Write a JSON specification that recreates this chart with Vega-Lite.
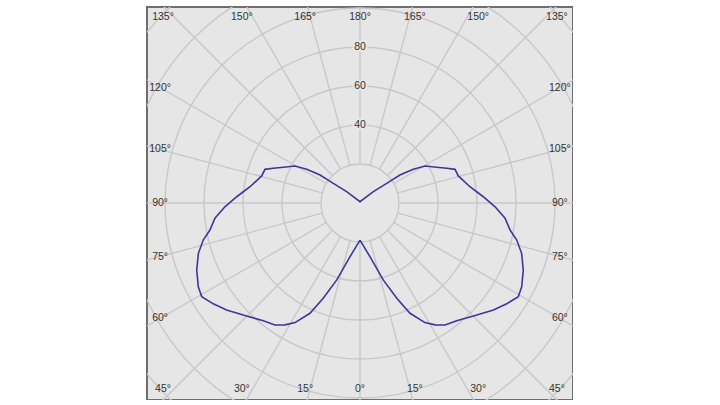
{
  "$schema": "https://vega.github.io/schema/vega-lite/v6.json",
  "width": 426,
  "height": 393,
  "autosize": {"type": "none"},
  "padding": {"left": 147, "top": 7, "right": 0, "bottom": 0},
  "background": "#ffffff",
  "config": {
    "view": {"fill": "#e6e6e6", "stroke": "#6e6e6e", "strokeWidth": 2}
  },
  "datasets": {
    "circles": [
      {"r": 20}, {"r": 40}, {"r": 60}, {"r": 80}, {"r": 100}, {"r": 120}, {"r": 140}
    ],
    "spokes": [
      {"a": 0}, {"a": 15}, {"a": 30}, {"a": 45}, {"a": 60}, {"a": 75},
      {"a": 90}, {"a": 105}, {"a": 120}, {"a": 135}, {"a": 150}, {"a": 165},
      {"a": 180}, {"a": 195}, {"a": 210}, {"a": 225}, {"a": 240}, {"a": 255},
      {"a": 270}, {"a": 285}, {"a": 300}, {"a": 315}, {"a": 330}, {"a": 345}
    ],
    "curve": [
      {"a": 0, "cd": 19.0},
      {"a": 10.5, "cd": 28.0},
      {"a": 16.8, "cd": 41.2},
      {"a": 21.1, "cd": 52.4},
      {"a": 24.4, "cd": 62.1},
      {"a": 28.5, "cd": 69.8},
      {"a": 31.6, "cd": 73.4},
      {"a": 34.9, "cd": 76.3},
      {"a": 39.4, "cd": 78.1},
      {"a": 45.1, "cd": 82.1},
      {"a": 51.3, "cd": 87.7},
      {"a": 55.5, "cd": 91.3},
      {"a": 59.4, "cd": 94.3},
      {"a": 62.6, "cd": 93.4},
      {"a": 67.7, "cd": 90.5},
      {"a": 72.7, "cd": 86.8},
      {"a": 76.7, "cd": 82.6},
      {"a": 79.8, "cd": 78.2},
      {"a": 84.0, "cd": 74.8},
      {"a": 88.4, "cd": 69.3},
      {"a": 92.9, "cd": 63.3},
      {"a": 98.4, "cd": 57.0},
      {"a": 105.4, "cd": 52.3},
      {"a": 109.5, "cd": 51.7},
      {"a": 111.8, "cd": 47.9},
      {"a": 115.0, "cd": 43.4},
      {"a": 119.6, "cd": 38.4},
      {"a": 122.3, "cd": 32.3},
      {"a": 125.0, "cd": 25.0},
      {"a": 126.4, "cd": 17.0},
      {"a": 130.4, "cd": 9.0},
      {"a": 180, "cd": 0.7},
      {"a": 229.6, "cd": 9.0},
      {"a": 233.6, "cd": 17.0},
      {"a": 235.0, "cd": 25.0},
      {"a": 237.7, "cd": 32.3},
      {"a": 240.4, "cd": 38.4},
      {"a": 245.0, "cd": 43.4},
      {"a": 248.2, "cd": 47.9},
      {"a": 250.5, "cd": 51.7},
      {"a": 254.6, "cd": 52.3},
      {"a": 261.6, "cd": 57.0},
      {"a": 267.1, "cd": 63.3},
      {"a": 271.6, "cd": 69.3},
      {"a": 276.0, "cd": 74.8},
      {"a": 280.2, "cd": 78.2},
      {"a": 283.3, "cd": 82.6},
      {"a": 287.3, "cd": 86.8},
      {"a": 292.3, "cd": 90.5},
      {"a": 297.4, "cd": 93.4},
      {"a": 300.6, "cd": 94.3},
      {"a": 304.5, "cd": 91.3},
      {"a": 308.7, "cd": 87.7},
      {"a": 314.9, "cd": 82.1},
      {"a": 320.6, "cd": 78.1},
      {"a": 325.1, "cd": 76.3},
      {"a": 328.4, "cd": 73.4},
      {"a": 331.5, "cd": 69.8},
      {"a": 335.6, "cd": 62.1},
      {"a": 338.9, "cd": 52.4},
      {"a": 343.2, "cd": 41.2},
      {"a": 349.5, "cd": 28.0},
      {"a": 360, "cd": 19.0}
    ],
    "angleLabels": [
      {"a": 0, "label": "0°"}, {"a": 15, "label": "15°"}, {"a": 30, "label": "30°"},
      {"a": 45, "label": "45°"}, {"a": 60, "label": "60°"}, {"a": 75, "label": "75°"},
      {"a": 90, "label": "90°"}, {"a": 105, "label": "105°"}, {"a": 120, "label": "120°"},
      {"a": 135, "label": "135°"}, {"a": 150, "label": "150°"}, {"a": 165, "label": "165°"},
      {"a": 180, "label": "180°"}, {"a": 195, "label": "165°"}, {"a": 210, "label": "150°"},
      {"a": 225, "label": "135°"}, {"a": 240, "label": "120°"}, {"a": 255, "label": "105°"},
      {"a": 270, "label": "90°"}, {"a": 285, "label": "75°"}, {"a": 300, "label": "60°"},
      {"a": 315, "label": "45°"}, {"a": 330, "label": "30°"}, {"a": 345, "label": "15°"}
    ],
    "valueLabels": [
      {"v": 40, "label": "40"}, {"v": 60, "label": "60"}, {"v": 80, "label": "80"}
    ]
  },
  "layer": [
    {
      "data": {"name": "circles"},
      "mark": {"type": "arc", "theta": 0, "theta2": 6.2832, "fill": "transparent", "stroke": "#c8c8c8", "strokeWidth": 1.4, "clip": true},
      "encoding": {
        "x": {"datum": 0, "type": "quantitative", "scale": {"domain": [-109.23, 109.23], "nice": false, "zero": false}, "axis": null},
        "y": {"datum": 0, "type": "quantitative", "scale": {"domain": [-101.03, 100.51], "nice": false, "zero": false}, "axis": null},
        "radius": {"field": "r", "type": "quantitative", "stack": null, "scale": {"type": "linear", "domain": [0, 140], "range": [0, 273], "nice": false}, "legend": null}
      }
    },
    {
      "data": {"name": "spokes"},
      "transform": [
        {"calculate": "sin(datum.a * PI / 180) * 20", "as": "x1"},
        {"calculate": "-cos(datum.a * PI / 180) * 20", "as": "y1"},
        {"calculate": "sin(datum.a * PI / 180) * 160", "as": "x2"},
        {"calculate": "-cos(datum.a * PI / 180) * 160", "as": "y2"}
      ],
      "mark": {"type": "rule", "stroke": "#c8c8c8", "strokeWidth": 1.4, "clip": true},
      "encoding": {
        "x": {"field": "x1", "type": "quantitative", "scale": {"domain": [-109.23, 109.23], "nice": false, "zero": false}, "axis": null},
        "y": {"field": "y1", "type": "quantitative", "scale": {"domain": [-101.03, 100.51], "nice": false, "zero": false}, "axis": null},
        "x2": {"field": "x2"},
        "y2": {"field": "y2"}
      }
    },
    {
      "data": {"name": "angleLabels"},
      "transform": [
        {"calculate": "sin(datum.a * PI / 180)", "as": "s"},
        {"calculate": "-cos(datum.a * PI / 180)", "as": "c"},
        {"calculate": "min(abs(datum.s) > 0.001 ? 102.5 / abs(datum.s) : 999, abs(datum.c) > 0.001 ? 95.4 / abs(datum.c) : 999)", "as": "t"},
        {"calculate": "abs(datum.c) * datum.t > 95.3 ? clamp(1.1 * datum.s * datum.t, -101, 101) : datum.s * datum.t", "as": "lx"},
        {"calculate": "datum.c * datum.t", "as": "ly"}
      ],
      "mark": {"type": "text", "font": "Liberation Sans", "fontSize": 10.5, "fill": "#333333", "align": "center", "baseline": "middle"},
      "encoding": {
        "x": {"field": "lx", "type": "quantitative", "scale": {"domain": [-109.23, 109.23], "nice": false, "zero": false}, "axis": null},
        "y": {"field": "ly", "type": "quantitative", "scale": {"domain": [-101.03, 100.51], "nice": false, "zero": false}, "axis": null},
        "text": {"field": "label"}
      }
    },
    {
      "data": {"name": "valueLabels"},
      "mark": {"type": "text", "font": "Liberation Sans", "fontSize": 10.5, "fill": "#e6e6e6", "stroke": "#e6e6e6", "strokeWidth": 4, "align": "center", "baseline": "middle"},
      "encoding": {
        "x": {"datum": 0, "type": "quantitative", "scale": {"domain": [-109.23, 109.23], "nice": false, "zero": false}, "axis": null},
        "y": {"field": "v", "type": "quantitative", "scale": {"domain": [-101.03, 100.51], "nice": false, "zero": false}, "axis": null},
        "text": {"field": "label"}
      }
    },
    {
      "data": {"name": "valueLabels"},
      "mark": {"type": "text", "font": "Liberation Sans", "fontSize": 10.5, "fill": "#333333", "align": "center", "baseline": "middle"},
      "encoding": {
        "x": {"datum": 0, "type": "quantitative", "scale": {"domain": [-109.23, 109.23], "nice": false, "zero": false}, "axis": null},
        "y": {"field": "v", "type": "quantitative", "scale": {"domain": [-101.03, 100.51], "nice": false, "zero": false}, "axis": null},
        "text": {"field": "label"}
      }
    },
    {
      "data": {"name": "curve"},
      "transform": [
        {"calculate": "sin(datum.a * PI / 180) * datum.cd", "as": "px"},
        {"calculate": "-cos(datum.a * PI / 180) * datum.cd", "as": "py"}
      ],
      "mark": {"type": "line", "stroke": "#3b3899", "strokeWidth": 1.6, "clip": true},
      "encoding": {
        "x": {"field": "px", "type": "quantitative", "scale": {"domain": [-109.23, 109.23], "nice": false, "zero": false}, "axis": null},
        "y": {"field": "py", "type": "quantitative", "scale": {"domain": [-101.03, 100.51], "nice": false, "zero": false}, "axis": null},
        "order": {"field": "a", "type": "quantitative"}
      }
    }
  ]
}
